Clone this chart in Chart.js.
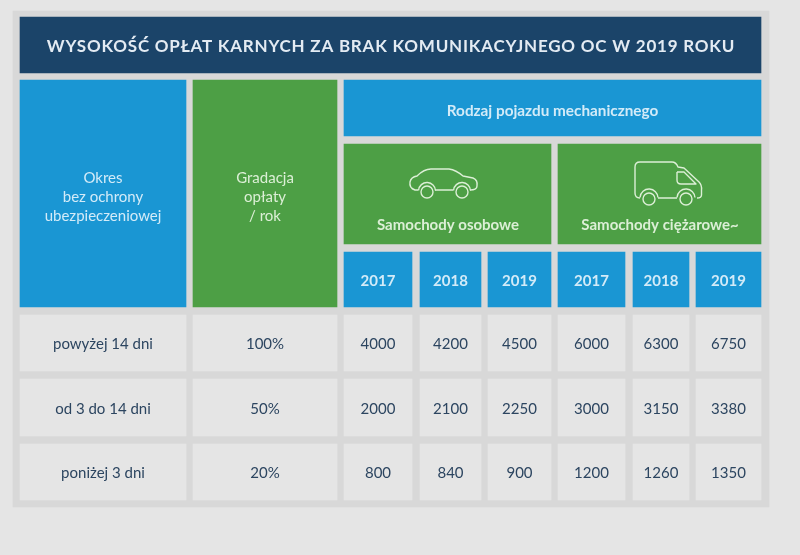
<!DOCTYPE html>
<html>
<head>
<meta charset="utf-8">
<script src="https://cdn.jsdelivr.net/npm/chart.js@4"></script>
<style>
  html, body { margin: 0; padding: 0; background: #e5e5e5; }
  canvas { display: block; }
</style>
</head>
<body>
<canvas id="fees-table" width="800" height="555"></canvas>
<script>
// table contents
const title = "WYSOKOŚĆ OPŁAT KARNYCH ZA BRAK KOMUNIKACYJNEGO OC W 2019 ROKU";
const periodHeader = ["Okres", "bez ochrony", "ubezpieczeniowej"];
const gradationHeader = ["Gradacja", "opłaty", "/ rok"];
const vehicleHeader = "Rodzaj pojazdu mechanicznego";
const vehicleTypes = ["Samochody osobowe", "Samochody ciężarowe~"];
const years = ["2017", "2018", "2019", "2017", "2018", "2019"];
const periods = ["powyżej 14 dni", "od 3 do 14 dni", "poniżej 3 dni"];
const gradation = ["100%", "50%", "20%"];
const over14 = [4000, 4200, 4500, 6000, 6300, 6750];
const from3to14 = [2000, 2100, 2250, 3000, 3150, 3380];
const under3 = [800, 840, 900, 1200, 1260, 1350];
const feeRows = [over14, from3to14, under3];

// grid layout, in scale units
const yearCols = [[344, 412], [420, 481], [488, 551], [558, 625], [633, 689], [696, 761]];
const periodCol = [20, 186];
const gradationCol = [193, 337];
const rightCol = [344, 761];
const typeCols = [[344, 551], [558, 761]];
const bodyBands = [[315, 371], [379, 436], [444, 500]];

const BLUE = "#1a96d3";
const GREEN = "#4d9f45";
const NAVY = "#1b4469";
const CELL = "#e5e5e5";
const PANEL = "#d8d8d8";
const INK = "#2c4560";
const ON_BLUE = "#d3ebf8";
const ON_GREEN = "#dcefd6";

function band(top, bottom, spans, colors) {
  const mid = (top + bottom) / 2;
  return {
    data: spans.map((s) => ({ x: s, y: mid })),
    backgroundColor: colors,
    barThickness: bottom - top,
    grouped: false,
  };
}

const bodyCols = [periodCol, gradationCol, ...yearCols];
const datasets = [
  band(11, 507, [[13, 769]], [PANEL]),
  band(17, 73, [[20, 761]], [NAVY]),
  band(80, 307, [periodCol, gradationCol], [BLUE, GREEN]),
  band(80, 136, [rightCol], [BLUE]),
  band(144, 244, typeCols, [GREEN, GREEN]),
  band(252, 307, yearCols, yearCols.map(() => BLUE)),
  ...bodyBands.map((b) => band(b[0], b[1], bodyCols, bodyCols.map(() => CELL))),
];
// later datasets have to paint over the panel
datasets.forEach((d, i) => (d.order = datasets.length - i));

const mid = (s) => (s[0] + s[1]) / 2;

const tablePlugin = {
  id: "tableText",
  afterDatasetsDraw(chart) {
    const { ctx, scales } = chart;
    const px = (v) => scales.x.getPixelForValue(v);
    const py = (v) => scales.y.getPixelForValue(v);

    const put = (text, x, y, color, font, spacing) => {
      ctx.font = font;
      ctx.fillStyle = color;
      ctx.letterSpacing = spacing || "0px";
      ctx.fillText(String(text), px(x), py(y));
    };

    ctx.save();
    ctx.textAlign = "center";
    ctx.textBaseline = "middle";

    const face = "Lato, sans-serif";
    put(title, 391, 47, "#e3ebf3", "bold 17px " + face, "0.78px");
    put(vehicleHeader, mid(rightCol), 111, ON_BLUE, "bold 15.3px " + face);
    periodHeader.forEach((t, i) => put(t, mid(periodCol), 178 + i * 19, ON_BLUE, "15px " + face));
    gradationHeader.forEach((t, i) => put(t, mid(gradationCol), 178 + i * 19, ON_GREEN, "15px " + face));
    vehicleTypes.forEach((t, i) => put(t, mid(typeCols[i]) + 0.5, 225, ON_GREEN, "bold 15px " + face));
    years.forEach((t, i) => put(t, mid(yearCols[i]), 281, ON_BLUE, "bold 15px " + face));
    periods.forEach((t, r) => put(t, mid(periodCol), mid(bodyBands[r]) + 1.5, INK, "15px " + face));
    gradation.forEach((t, r) => put(t, mid(gradationCol), mid(bodyBands[r]) + 1.5, INK, "15px " + face));
    feeRows.forEach((row, r) => {
      row.forEach((v, c) => put(v, mid(yearCols[c]), mid(bodyBands[r]) + 1.5, INK, "15px " + face));
    });

    // icons
    ctx.strokeStyle = ON_GREEN;
    ctx.lineWidth = 1.4;
    ctx.lineJoin = "round";
    const wheel = (x, y, r) => {
      ctx.beginPath();
      ctx.arc(px(x), py(y), r, 0, Math.PI * 2);
      ctx.stroke();
    };

    // car
    ctx.beginPath();
    ctx.moveTo(px(418), py(190));
    ctx.lineTo(px(415), py(190));
    ctx.quadraticCurveTo(px(409), py(188), px(410), py(182));
    ctx.quadraticCurveTo(px(411), py(177), px(417), py(176));
    ctx.quadraticCurveTo(px(424), py(169), px(431), py(169));
    ctx.lineTo(px(449), py(169));
    ctx.quadraticCurveTo(px(456), py(170), px(463), py(176));
    ctx.lineTo(px(473), py(178));
    ctx.quadraticCurveTo(px(478), py(180), px(477), py(186));
    ctx.quadraticCurveTo(px(477), py(190), px(470), py(190));
    ctx.moveTo(px(453), py(190));
    ctx.lineTo(px(435), py(190));
    ctx.stroke();
    ctx.beginPath();
    ctx.arc(px(427), py(191), 8.5, Math.PI * 1.02, Math.PI * 1.98);
    ctx.stroke();
    ctx.beginPath();
    ctx.arc(px(462), py(191), 8.5, Math.PI * 1.02, Math.PI * 1.98);
    ctx.stroke();
    wheel(427, 192, 6);
    wheel(462, 192, 6);

    // van
    ctx.beginPath();
    ctx.moveTo(px(640), py(198));
    ctx.quadraticCurveTo(px(635), py(198), px(635), py(193));
    ctx.lineTo(px(635), py(167));
    ctx.quadraticCurveTo(px(635), py(162), px(640), py(162));
    ctx.lineTo(px(672), py(162));
    ctx.quadraticCurveTo(px(676), py(162), px(678), py(167));
    ctx.lineTo(px(684), py(168));
    ctx.lineTo(px(699), py(182));
    ctx.quadraticCurveTo(px(702), py(185), px(701.5), py(190));
    ctx.lineTo(px(701.5), py(195));
    ctx.quadraticCurveTo(px(701.5), py(198), px(697), py(198));
    ctx.moveTo(px(677), py(198));
    ctx.lineTo(px(658), py(198));
    ctx.moveTo(px(677), py(172));
    ctx.lineTo(px(677), py(180));
    ctx.quadraticCurveTo(px(677), py(184), px(681), py(184));
    ctx.lineTo(px(696), py(184));
    ctx.lineTo(px(684), py(172));
    ctx.lineTo(px(677), py(172));
    ctx.stroke();
    ctx.beginPath();
    ctx.arc(px(649), py(198), 9, Math.PI * 1.02, Math.PI * 1.98);
    ctx.stroke();
    ctx.beginPath();
    ctx.arc(px(686), py(198), 9, Math.PI * 1.02, Math.PI * 1.98);
    ctx.stroke();
    wheel(649, 199, 6);
    wheel(686, 199, 6);

    ctx.restore();
  },
};

new Chart(document.getElementById("fees-table"), {
  type: "bar",
  data: { datasets },
  plugins: [tablePlugin],
  options: {
    indexAxis: "y",
    responsive: false,
    animation: false,
    events: [],
    layout: { padding: 0 },
    plugins: { legend: { display: false }, tooltip: { enabled: false } },
    scales: {
      x: { type: "linear", min: 0, max: 800, display: false },
      y: { type: "linear", min: 0, max: 555, reverse: true, offset: false, display: false },
    },
  },
});
</script>
</body>
</html>
